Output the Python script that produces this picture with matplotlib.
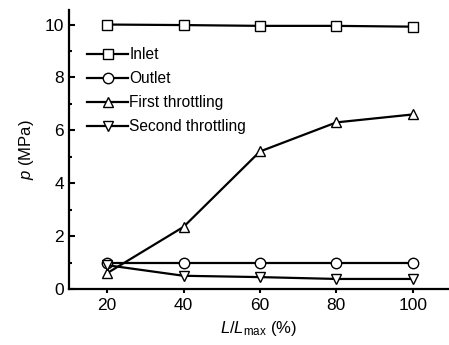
import matplotlib
matplotlib.use("Agg")
import matplotlib.pyplot as plt
from matplotlib.ticker import MultipleLocator

plt.rcParams["font.family"] = ["Liberation Sans", "DejaVu Sans"]
plt.rcParams["mathtext.fontset"] = "custom"
plt.rcParams["mathtext.rm"] = "Liberation Sans"
plt.rcParams["mathtext.it"] = "Liberation Sans:italic"

x = [20, 40, 60, 80, 100]
inlet = [10.0, 9.98, 9.95, 9.95, 9.92]
outlet = [1.0, 1.0, 1.0, 1.0, 1.0]
first_throttling = [0.6, 2.35, 5.2, 6.3, 6.6]
second_throttling = [0.9, 0.5, 0.45, 0.38, 0.38]

series = [
    ("Inlet", inlet, "s"),
    ("Outlet", outlet, "o"),
    ("First throttling", first_throttling, "^"),
    ("Second throttling", second_throttling, "v"),
]

fig = plt.figure(figsize=(4.49, 3.45), dpi=100)
ax = fig.add_axes([69 / 449, 56 / 345, 380 / 449, 279 / 345])

for label, values, marker in series:
    ax.plot(x, values, color="black", linewidth=1.6, marker=marker,
            markersize=7.5, markerfacecolor="white", markeredgecolor="black",
            markeredgewidth=1.0, label=label)

ax.set_xlim(10, 109.5)
ax.set_ylim(0, 10.55)
ax.xaxis.set_major_locator(MultipleLocator(20))
ax.yaxis.set_major_locator(MultipleLocator(2))
ax.yaxis.set_minor_locator(MultipleLocator(1))
ax.tick_params(axis="y", which="both", direction="in", width=1.5, labelsize=12.5)
ax.tick_params(axis="y", which="major", length=4.5)
ax.tick_params(axis="y", which="minor", length=2.5)
ax.tick_params(axis="x", direction="out", length=3, width=1.5, labelsize=12.5)
for side in ("top", "right"):
    ax.spines[side].set_visible(False)
for side in ("left", "bottom"):
    ax.spines[side].set_linewidth(1.6)

ax.set_xlabel(r"$\mathit{L}/\mathit{L}_{\mathrm{max}}$ (%)", fontsize=12)
ax.set_ylabel(r"$\mathit{p}$ (MPa)", fontsize=12, labelpad=6)

ax.legend(loc="upper left", bbox_to_anchor=(0.02, 0.905), frameon=False,
          fontsize=11.2, handlelength=2.6, handletextpad=0.1,
          labelspacing=0.58, borderpad=0.2)

fig.savefig("out.png", dpi=100)
